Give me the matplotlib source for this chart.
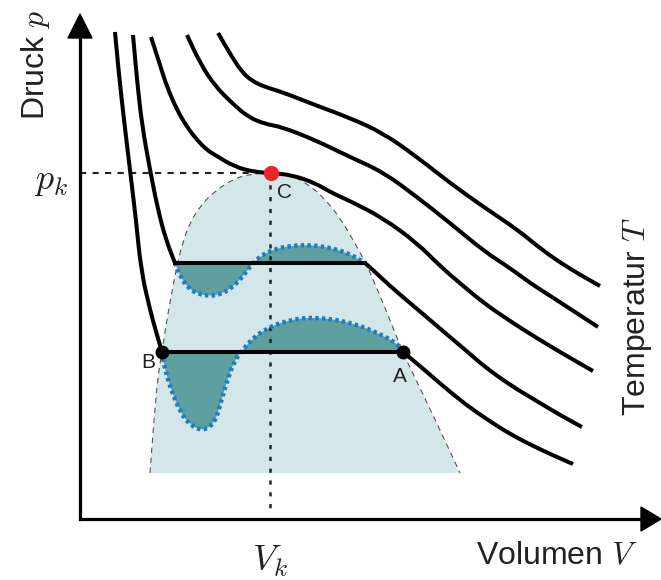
import matplotlib
matplotlib.use("Agg")
import matplotlib.pyplot as plt
from matplotlib.patches import Polygon, PathPatch
from matplotlib.path import Path

plt.rcParams['font.family'] = ['Liberation Sans', 'DejaVu Sans']
plt.rcParams['mathtext.fontset'] = 'cm'
plt.rcParams['lines.scale_dashes'] = False  # dash lengths given in points

# isotherms (V, p in schematic units, origin at axis corner)
# each isotherm below the critical one = left branch, plateau, right branch
iso1_left_V = [35, 39, 44, 50, 56, 61, 70, 77, 82]
iso1_left_p = [487, 444, 399, 349, 299, 249, 209, 184, 167]
iso1_right_V = [323, 340, 363, 385, 405, 425, 445, 470, 493]
iso1_right_p = [167, 153, 133, 115, 101, 88, 77, 65, 55]

iso2_left_V = [53, 57, 62, 70, 78, 86, 95]
iso2_left_p = [484, 439, 394, 349, 309, 279, 256]
iso2_right_V = [285, 293, 310, 330, 350, 370, 390, 405, 430, 455, 480, 502]
iso2_right_p = [256, 249, 233, 216, 199, 182, 165, 152, 134, 119, 104, 92]

iso3_V = [71, 80, 87, 97, 107, 117, 127, 135, 155, 175, 191, 212, 235, 252, 270, 303, 337,
          360, 382, 405, 430, 455, 485, 513]
iso3_p = [482, 454, 432, 409, 392, 379, 369, 364, 352, 347, 346, 344, 336, 326, 318, 301, 276,
          253, 234, 215, 198, 182, 164, 148]

iso4_V = [107, 120, 135, 152, 168, 185, 202, 235, 270, 303, 337, 370, 405, 430, 450, 472, 495, 518]
iso4_p = [484, 456, 433, 416, 402, 395, 392, 379, 362, 347, 322, 296, 267, 251, 236, 222, 207, 192]

iso5_V = [138, 152, 162, 172, 185, 202, 235, 270, 303, 337, 370, 405, 438, 462, 490, 520]
iso5_p = [486, 462, 447, 438, 432, 427, 414, 401, 386, 362, 336, 311, 289, 269, 250, 233]

# van-der-Waals loops
loop2_V = [95, 100, 108, 118, 130, 142, 154, 164, 172, 182, 195, 210, 225, 240, 255, 270, 285]
loop2_p = [256, 243, 231, 225, 223, 225, 233, 244, 255, 264, 270, 273, 274, 273, 270, 265, 256]

loop1_V = [82, 84, 90, 100, 110, 123, 135, 142, 148, 155, 162, 170, 185, 208, 235, 270, 303, 320, 323]
loop1_p = [167, 154, 132, 107, 94, 88, 96, 121, 141, 159, 168, 178, 190, 199, 202, 197, 184, 173, 167]

# coexistence dome
dome_V = [70, 74, 78, 82, 86, 91, 96, 102, 110, 122, 135, 155, 172, 191, 210, 228, 245, 260,
          272, 282, 290, 300, 310, 323, 340, 360, 380]
dome_p = [46, 99, 144, 167, 194, 222, 249, 274, 297, 315, 328, 341, 345, 346, 344, 335, 320, 301,
          281, 263, 247, 223, 199, 166, 131, 89, 46]

V_k, p_k = 191, 346
B_pt = (82, 167)
A_pt = (323, 167)
plateau_p = [167, 256]

light = '#d3e7ea'
teal = '#5e9fa0'
blue = '#1b7cc6'


def smooth_path(xs, ys, close=False):
    # quadratic bezier through midpoints, drawn by matplotlib's path renderer
    pts = list(zip(xs, ys))
    verts = [pts[0], ((pts[0][0] + pts[1][0]) / 2, (pts[0][1] + pts[1][1]) / 2)]
    codes = [Path.MOVETO, Path.LINETO]
    for i in range(1, len(pts) - 1):
        mid = ((pts[i][0] + pts[i + 1][0]) / 2, (pts[i][1] + pts[i + 1][1]) / 2)
        verts += [pts[i], mid]
        codes += [Path.CURVE3, Path.CURVE3]
    verts.append(pts[-1])
    codes.append(Path.LINETO)
    if close:
        verts.append(pts[0])
        codes.append(Path.CLOSEPOLY)
    return Path(verts, codes)


fig = plt.figure(figsize=(6.61, 5.80), dpi=100)
ax = fig.add_axes([0, 0, 1, 1])
ax.set_xlim(-80, 581)
ax.set_ylim(-61, 519)
ax.axis('off')

# shaded two-phase region
ax.add_patch(PathPatch(smooth_path(dome_V, dome_p, close=True), fc=light, lw=0, zorder=1))
ax.add_patch(PathPatch(smooth_path(loop1_V, loop1_p, close=True), fc=teal, lw=0, zorder=2))
ax.add_patch(PathPatch(smooth_path(loop2_V, loop2_p, close=True), fc=teal, lw=0, zorder=2))
ax.add_patch(PathPatch(smooth_path(dome_V, dome_p), fill=False, ec='#555555', lw=0.8,
                       ls=(0, (4, 3.2)), zorder=3))

# critical point guides
ax.plot([0, V_k], [p_k, p_k], color='#222222', lw=1.5, dashes=(4.5, 4.5), zorder=3)
ax.plot([V_k - 1, V_k - 1], [p_k, 9], color='#222222', lw=1.8, dashes=(3, 5.5), zorder=3)

# isotherms
branches = [(iso1_left_V, iso1_left_p), (iso1_right_V, iso1_right_p),
            (iso2_left_V, iso2_left_p), (iso2_right_V, iso2_right_p),
            (iso3_V, iso3_p), (iso4_V, iso4_p), (iso5_V, iso5_p)]
for vv, pp in branches:
    ax.add_patch(PathPatch(smooth_path(vv, pp), fill=False, ec='black', lw=2.9,
                           joinstyle='round', capstyle='butt', zorder=5))
# Maxwell plateaus
ax.plot([B_pt[0], A_pt[0]], [plateau_p[0], plateau_p[0]], color='black', lw=2.9, zorder=5)
ax.plot([iso2_left_V[-1], iso2_right_V[0]], [plateau_p[1], plateau_p[1]], color='black', lw=2.9, zorder=5)

# loops (dotted)
for vv, pp in [(loop1_V, loop1_p), (loop2_V, loop2_p)]:
    ax.add_patch(PathPatch(smooth_path(vv, pp), fill=False, ec=blue, lw=3.2,
                           ls=(0, (2.4, 2.4)), capstyle='butt', zorder=4))

ax.plot(*B_pt, 'o', color='black', ms=9, zorder=6)
ax.plot(*A_pt, 'o', color='black', ms=9, zorder=6)
ax.plot(V_k, p_k, 'o', color='#e8262b', ms=10, zorder=6)

ax.text(B_pt[0] - 14, B_pt[1] - 10, 'B', fontsize=15, ha='center', va='center', color='#222222')
ax.text(A_pt[0] - 3, A_pt[1] - 24, 'A', fontsize=15, ha='center', va='center', color='#222222')
ax.text(V_k + 14, p_k - 20, 'C', fontsize=15, ha='center', va='center', color='#222222')

# axes with arrows
ax.plot([0, 0], [0, 485], color='black', lw=2.3, solid_capstyle='projecting', zorder=7)
ax.plot([0, 563], [0, 0], color='black', lw=2.3, solid_capstyle='projecting', zorder=7)
ax.add_patch(Polygon([(0, 505), (-12, 481), (12, 481)], closed=True, color='black', zorder=7))
ax.add_patch(Polygon([(581, 0), (561, -12), (561, 12)], closed=True, color='black', zorder=7))

ax.text(-45, 454, 'Druck $p$', fontsize=23, rotation=90, ha='center', va='center', color='#222222')
ax.text(477, -37, 'Volumen $V$', fontsize=23, ha='center', va='center', color='#222222')
ax.text(557, 202, 'Temperatur $T$', fontsize=23, rotation=90, ha='center', va='center', color='#222222')
ax.text(-12, p_k - 8, '$p_k$', fontsize=26, ha='right', va='center', color='#222222')
ax.text(V_k - 1, -42, '$V_k$', fontsize=26, ha='center', va='center', color='#222222')

fig.savefig('out.png', dpi=100)
